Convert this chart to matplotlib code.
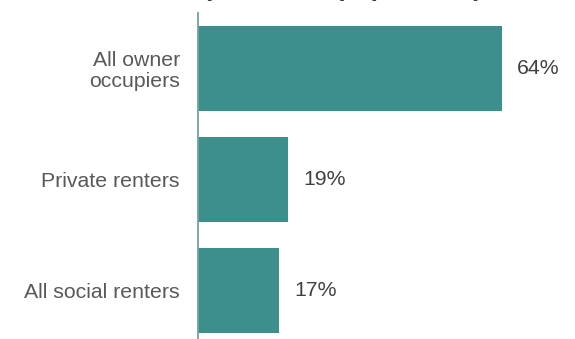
import matplotlib.pyplot as plt

plt.rcParams['font.family'] = ['Liberation Sans', 'DejaVu Sans']

categories = ['All owner\noccupiers', 'Private renters', 'All social renters']
values = [64, 19, 17]
title = '(% of total population)'

bar_color = '#3d8f8b'

fig = plt.figure(figsize=(5.75, 3.39), dpi=100)
ax = fig.add_axes([198 / 575, 0, 377 / 575, 326 / 339])

ypos = list(range(len(values)))
ax.barh(ypos, values, height=0.766, color=bar_color)

for y, v in zip(ypos, values):
    ax.text(v + 3.2, y, f'{v}%', va='center', ha='left', fontsize=15.3, color='#404040')

ax.set_xlim(0, 377 / 4.75)
ax.set_ylim(2.437, -0.5)
ax.set_yticks(ypos)
ax.set_yticklabels(categories, fontsize=15.3, color='#595959', ha='right',
                   linespacing=1.1)
ax.tick_params(axis='y', length=0, pad=13)
ax.set_xticks([])

for s in ['top', 'right', 'bottom']:
    ax.spines[s].set_visible(False)
ax.spines['left'].set_color('#6fa3a0')
ax.spines['left'].set_linewidth(1.3)

# title sits mostly above the canvas, only descenders show
fig.text(343 / 575, 1 + 4.5 / 339, title, ha='center', va='baseline',
         fontsize=19, fontweight='bold', color='#404040')

fig.savefig('out.png', dpi=100)
